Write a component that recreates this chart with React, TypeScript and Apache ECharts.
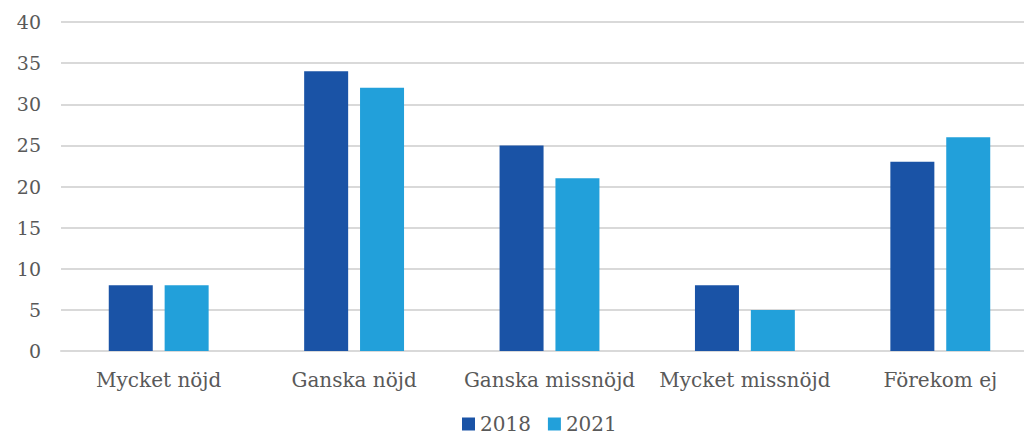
import React, { useEffect, useRef } from "react";
import * as echarts from "echarts";

const categories = ["Mycket nöjd", "Ganska nöjd", "Ganska missnöjd", "Mycket missnöjd", "Förekom ej"];
const values2018 = [8, 34, 25, 8, 23];
const values2021 = [8, 32, 21, 5, 26];
const yTicks = { min: 0, max: 40, interval: 5 };

const FONT = "'DejaVu Serif', 'Liberation Serif', serif";

export default function App() {
  const ref = useRef<HTMLDivElement>(null);
  useEffect(() => {
    const chart = echarts.init(ref.current!, null, { renderer: "svg" });
    chart.setOption({
      animation: false,
      textStyle: { fontFamily: FONT },
      grid: { left: 61, right: 14, top: 22, bottom: 88 },
      legend: {
        bottom: 0,
        left: 457,
        itemWidth: 13,
        itemHeight: 13,
        itemGap: 17,
        icon: "rect",
        textStyle: { fontFamily: FONT, fontSize: 20, color: "#595959" },
        data: ["2018", "2021"],
      },
      xAxis: {
        type: "category",
        data: categories,
        axisLine: { lineStyle: { color: "#d9d9d9", width: 2 } },
        axisTick: { show: false },
        axisLabel: { fontFamily: FONT, fontSize: 20, color: "#595959", margin: 19, interval: 0 },
      },
      yAxis: {
        type: "value",
        min: yTicks.min,
        max: yTicks.max,
        interval: yTicks.interval,
        axisLine: { show: false },
        axisTick: { show: false },
        splitLine: { lineStyle: { color: "#d9d9d9", width: 2 } },
        axisLabel: { fontFamily: FONT, fontSize: 19, color: "#595959", margin: 20 },
      },
      series: [
        {
          name: "2018",
          type: "bar",
          data: values2018,
          barWidth: 44,
          barGap: "27%",
          itemStyle: { color: "#1a53a6" },
        },
        {
          name: "2021",
          type: "bar",
          data: values2021,
          barWidth: 44,
          itemStyle: { color: "#22a0da" },
        },
      ],
    });
    return () => chart.dispose();
  }, []);
  return (
    <div
      style={{ position: "fixed", left: 0, top: 0, width: 1024, height: 439, overflow: "hidden", background: "#fff" }}
    >
      <div ref={ref} style={{ width: 1052, height: 439 }} />
    </div>
  );
}
